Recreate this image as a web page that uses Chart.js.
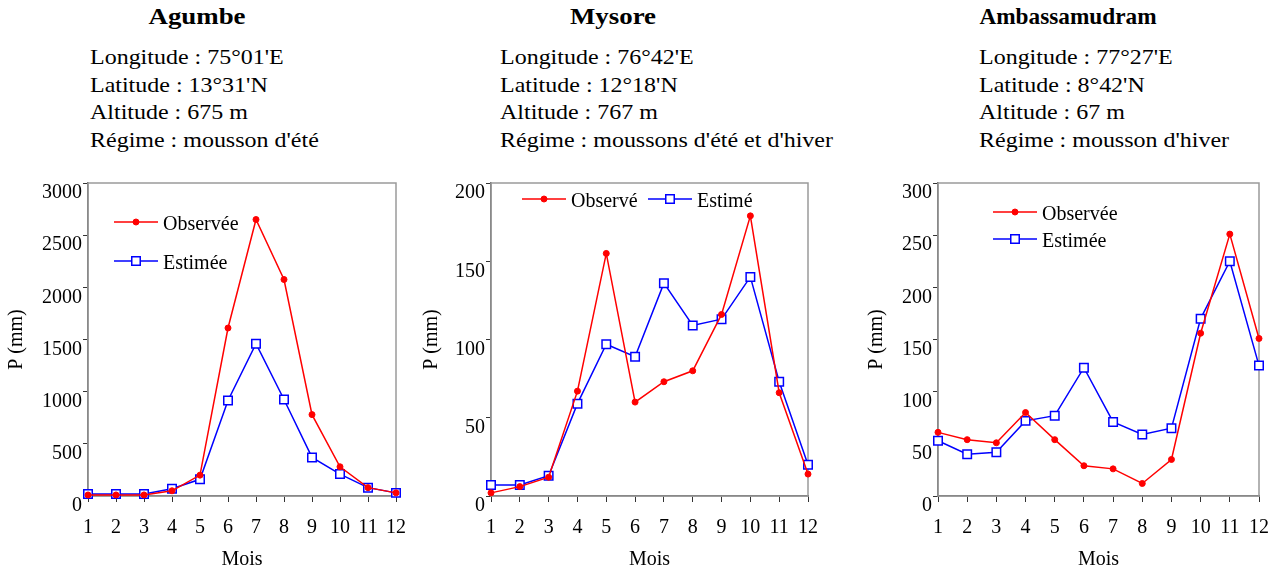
<!DOCTYPE html>
<html>
<head>
<meta charset="utf-8">
<script src="https://cdn.jsdelivr.net/npm/chart.js@4.4.0/dist/chart.umd.min.js"></script>
<style>
  body { margin: 0; width: 1283px; height: 576px; background: #fff; position: relative; overflow: hidden;
         font-family: 'Liberation Serif', 'Times New Roman', serif; color: #000; }
  .head { position: absolute; top: 0; }
  .head h2 { margin: 0; font-size: 24px; font-weight: bold; position: absolute; top: 3px; white-space: nowrap;
             transform: translateX(-50%) scaleX(1.12); }
  .head h2.narrow { transform: translateX(-50%) scaleX(0.97); }
  .head .info { position: absolute; top: 43px; font-size: 22px; line-height: 27.7px; white-space: nowrap;
                transform: scaleX(1.09); transform-origin: left top; }
  canvas { position: absolute; top: 170px; }
</style>
</head>
<body>

<div class="head" style="left:0">
  <h2 style="left:197px">Agumbe</h2>
  <div class="info" style="left:90px">Longitude : 75°01'E<br>Latitude : 13°31'N<br>Altitude : 675 m<br>Régime : mousson d'été</div>
</div>
<div class="head" style="left:0">
  <h2 style="left:613px">Mysore</h2>
  <div class="info" style="left:500px">Longitude : 76°42'E<br>Latitude : 12°18'N<br>Altitude : 767 m<br>Régime : moussons d'été et d'hiver</div>
</div>
<div class="head" style="left:0">
  <h2 class="narrow" style="left:1068px">Ambassamudram</h2>
  <div class="info" style="left:979px">Longitude : 77°27'E<br>Latitude : 8°42'N<br>Altitude : 67 m<br>Régime : mousson d'hiver</div>
</div>

<canvas id="c1" width="420" height="406" style="left:0"></canvas>
<canvas id="c2" width="440" height="406" style="left:420px"></canvas>
<canvas id="c3" width="423" height="406" style="left:860px"></canvas>

<script>
// Mois
const mois = ['1', '2', '3', '4', '5', '6', '7', '8', '9', '10', '11', '12'];

// Agumbe (mm)
const agumbeObs = [10, 10, 10, 50, 200, 1610, 2650, 2075, 780, 280, 80, 30];
const agumbeEst = [20, 20, 20, 70, 160, 915, 1460, 925, 370, 210, 80, 30];

// Mysore (mm)
const mysoreObs = [2, 6, 12, 67, 155, 60, 73, 80, 116, 179, 66, 14];
const mysoreEst = [7, 7, 13, 59, 97, 89, 136, 109, 113, 140, 73, 20];

// Ambassamudram (mm)
const ambaObs = [61, 54, 51, 80, 54, 29, 26, 12, 35, 156, 251, 151];
const ambaEst = [53, 40, 42, 72, 77, 123, 71, 59, 65, 170, 225, 125];

Chart.defaults.font.family = "'Liberation Serif', 'Times New Roman', serif";
Chart.defaults.font.size = 20;
Chart.defaults.color = '#000';

// Cadre gris autour de la zone du graphique
const boxPlugin = {
  id: 'box',
  beforeDatasetsDraw(chart) {
    const a = chart.chartArea;
    const ctx = chart.ctx;
    ctx.save();
    ctx.strokeStyle = '#9a9a9a';
    ctx.lineWidth = 1.5;
    ctx.strokeRect(a.left, a.top, a.right - a.left, a.bottom - a.top);
    ctx.restore();
  }
};

// Légende dessinée à l'intérieur du graphique
const innerLegend = {
  id: 'innerLegend',
  afterDatasetsDraw(chart, args, opts) {
    const ctx = chart.ctx;
    ctx.save();
    chart.data.datasets.forEach((ds, i) => {
      const p = opts.items[i];
      if (!p) return;
      ctx.strokeStyle = ds.borderColor;
      ctx.lineWidth = ds.borderWidth;
      ctx.beginPath();
      ctx.moveTo(p.x, p.y);
      ctx.lineTo(p.x + 44, p.y);
      ctx.stroke();
      ctx.fillStyle = ds.pointBackgroundColor;
      ctx.strokeStyle = ds.pointBorderColor;
      ctx.lineWidth = ds.pointBorderWidth || 1;
      ctx.beginPath();
      if (ds.pointStyle === 'rect') {
        const r = ds.pointRadius;
        ctx.rect(p.x + 22 - r * 0.707, p.y - r * 0.707, r * 1.414, r * 1.414);
      } else {
        ctx.arc(p.x + 22, p.y, ds.pointRadius, 0, Math.PI * 2);
      }
      ctx.fill();
      ctx.stroke();
      ctx.fillStyle = '#000';
      ctx.font = "20px 'Liberation Serif', 'Times New Roman', serif";
      ctx.textBaseline = 'middle';
      ctx.fillText(ds.label, p.x + 49, p.y + 3);
    });
    ctx.restore();
  }
};

function makeChart(id, obs, est, labels, yMax, yStep, geo, legendItems) {
  const ctx = document.getElementById(id);
  return new Chart(ctx, {
    type: 'line',
    data: {
      labels: mois,
      datasets: [{
        label: labels[0],
        data: obs,
        borderColor: '#ff0000',
        borderWidth: 1.5,
        pointStyle: 'circle',
        pointRadius: 3,
        pointBackgroundColor: '#ff0000',
        pointBorderColor: '#ff0000',
        pointBorderWidth: 1,
        tension: 0,
        clip: false
      }, {
        label: labels[1],
        data: est,
        borderColor: '#0000ff',
        borderWidth: 1.5,
        pointStyle: 'rect',
        pointRadius: 6,
        pointBackgroundColor: '#ffffff',
        pointBorderColor: '#0000ff',
        pointBorderWidth: 1.5,
        tension: 0,
        clip: false
      }]
    },
    options: {
      responsive: false,
      animation: false,
      layout: { padding: { left: 0, top: geo.top, right: geo.right, bottom: 0 } },
      plugins: {
        legend: { display: false },
        tooltip: { enabled: false },
        innerLegend: { items: legendItems }
      },
      scales: {
        x: {
          type: 'category',
          offset: false,
          grid: { drawOnChartArea: false, drawTicks: true, tickLength: 6, color: '#333', offset: false },
          border: { color: '#555', width: 1.5 },
          ticks: { padding: 14, maxRotation: 0, autoSkip: false },
          title: { display: true, text: 'Mois', padding: { top: 0, bottom: 4 } },
          afterFit(scale) { scale.height = 80; }
        },
        y: {
          min: 0,
          max: yMax,
          grid: { drawOnChartArea: false, drawTicks: true, tickLength: 5, color: '#333' },
          border: { color: '#555', width: 1.5 },
          ticks: {
            stepSize: yStep,
            padding: 1,
            labelOffset: 10,
            callback: function(value) { return String(value); }
          },
          title: { display: true, text: 'P (mm)', padding: { top: geo.titlePad, bottom: 0 } },
          afterFit(scale) { scale.width = geo.yWidth; }
        }
      }
    },
    plugins: [boxPlugin, innerLegend]
  });
}

document.addEventListener('DOMContentLoaded', function() {
  makeChart('c1', agumbeObs, agumbeEst, ['Observée', 'Estimée'], 3000, 500,
    { top: 11, right: 21, yWidth: 88, titlePad: 5 },
    [{ x: 114, y: 52 }, { x: 114, y: 91 }]);
  makeChart('c2', mysoreObs, mysoreEst, ['Observé', 'Estimé'], 200, 50,
    { top: 9, right: 52, yWidth: 71, titlePad: 0 },
    [{ x: 102, y: 29 }, { x: 228, y: 29 }]);
  makeChart('c3', ambaObs, ambaEst, ['Observée', 'Estimée'], 300, 50,
    { top: 11, right: 22, yWidth: 78, titlePad: 5 },
    [{ x: 133, y: 42 }, { x: 133, y: 69 }]);
});
</script>
</body>
</html>
